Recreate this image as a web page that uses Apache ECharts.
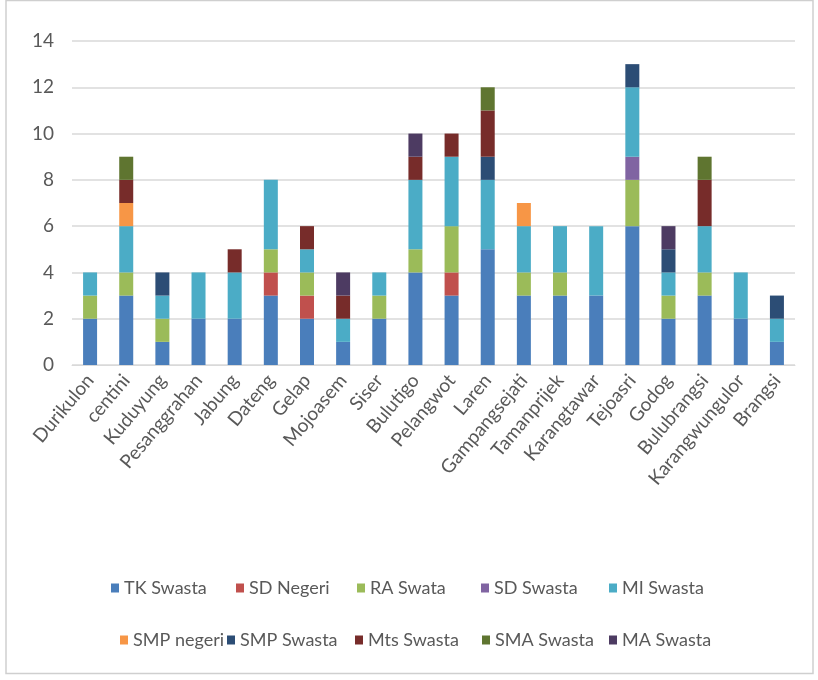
<!DOCTYPE html>
<html>
<head>
<meta charset="utf-8">
<script src="https://cdn.jsdelivr.net/npm/echarts@6/dist/echarts.min.js"></script>
<style>html,body{margin:0;padding:0;background:#fff}#c{width:818px;height:680px}</style>
</head>
<body>
<div id="c"></div>
<script>
const categories = ['Durikulon','centini','Kuduyung','Pesanggrahan','Jabung','Dateng','Gelap','Mojoasem','Siser','Bulutigo','Pelangwot','Laren','Gampangsejati','Tamanprijek','Karangtawar','Tejoasri','Godog','Bulubrangsi','Karangwungulor','Brangsi'];
const seriesNames = ['TK Swasta','SD Negeri','RA Swata','SD Swasta','MI Swasta','SMP negeri','SMP Swasta','Mts Swasta','SMA Swasta','MA Swasta'];
const tkSwasta   = [2,3,1,2,2,3,2,1,2,4,3,5,3,3,3,6,2,3,2,1];
const sdNegeri   = [0,0,0,0,0,1,1,0,0,0,1,0,0,0,0,0,0,0,0,0];
const raSwata    = [1,1,1,0,0,1,1,0,1,1,2,0,1,1,0,2,1,1,0,0];
const sdSwasta   = [0,0,0,0,0,0,0,0,0,0,0,0,0,0,0,1,0,0,0,0];
const miSwasta   = [1,2,1,2,2,3,1,1,1,3,3,3,2,2,3,3,1,2,2,1];
const smpNegeri  = [0,1,0,0,0,0,0,0,0,0,0,0,1,0,0,0,0,0,0,0];
const smpSwasta  = [0,0,1,0,0,0,0,0,0,0,0,1,0,0,0,1,1,0,0,1];
const mtsSwasta  = [0,1,0,0,1,0,1,1,0,1,1,2,0,0,0,0,0,2,0,0];
const smaSwasta  = [0,1,0,0,0,0,0,0,0,0,0,1,0,0,0,0,0,1,0,0];
const maSwasta   = [0,0,0,0,0,0,0,1,0,1,0,0,0,0,0,0,1,0,0,0];
const yTicks = [0,2,4,6,8,10,12,14];

const values = [tkSwasta,sdNegeri,raSwata,sdSwasta,miSwasta,smpNegeri,smpSwasta,mtsSwasta,smaSwasta,maSwasta];
const colors = ['#4a7ebb','#c0504d','#9bbb59','#8064a2','#4bacc6','#f79646','#2c4d75','#772c2a','#5f7530','#4d3b62'];
const legendPos = [[111,579],[236,579],[357,579],[481,579],[609,579],[120,631],[227,631],[355,631],[482,631],[609,631]];
const font = 'Lato, "Noto Sans", sans-serif';

const chart = echarts.init(document.getElementById('c'));
chart.setOption({
  animation:false,
  backgroundColor:'#fff',
  textStyle:{fontFamily:font},
  grid:{left:72,right:23,top:41,bottom:315,containLabel:false},
  xAxis:{type:'category',data:categories,
    axisLine:{show:true,lineStyle:{color:'#d9d9d9'}},axisTick:{show:false},
    axisLabel:{rotate:50,interval:0,fontSize:19,color:'#595959',fontFamily:font,margin:12}},
  yAxis:{type:'value',min:0,max:14,interval:2,
    axisLine:{show:false},axisTick:{show:false},
    splitLine:{lineStyle:{color:'#d9d9d9',width:1.5}},
    axisLabel:{fontSize:19,color:'#595959',fontFamily:font,margin:18,
      formatter:v=>yTicks.includes(v)?String(v):''}},
  legend: seriesNames.map((n,i)=>({data:[n],left:legendPos[i][0],top:legendPos[i][1],padding:0,
    itemWidth:8,itemHeight:9,itemGap:0,icon:'rect',
    textStyle:{fontSize:18,color:'#595959',fontFamily:font}})),
  graphic:[{type:'rect',shape:{x:6,y:0.5,width:807,height:673},style:{fill:'none',stroke:'#cfcfcf',lineWidth:1.5},silent:true}],
  series: seriesNames.map((n,i)=>({name:n,type:'bar',stack:'total',barWidth:14,
    itemStyle:{color:colors[i]},data:values[i]}))
});
</script>
</body>
</html>
